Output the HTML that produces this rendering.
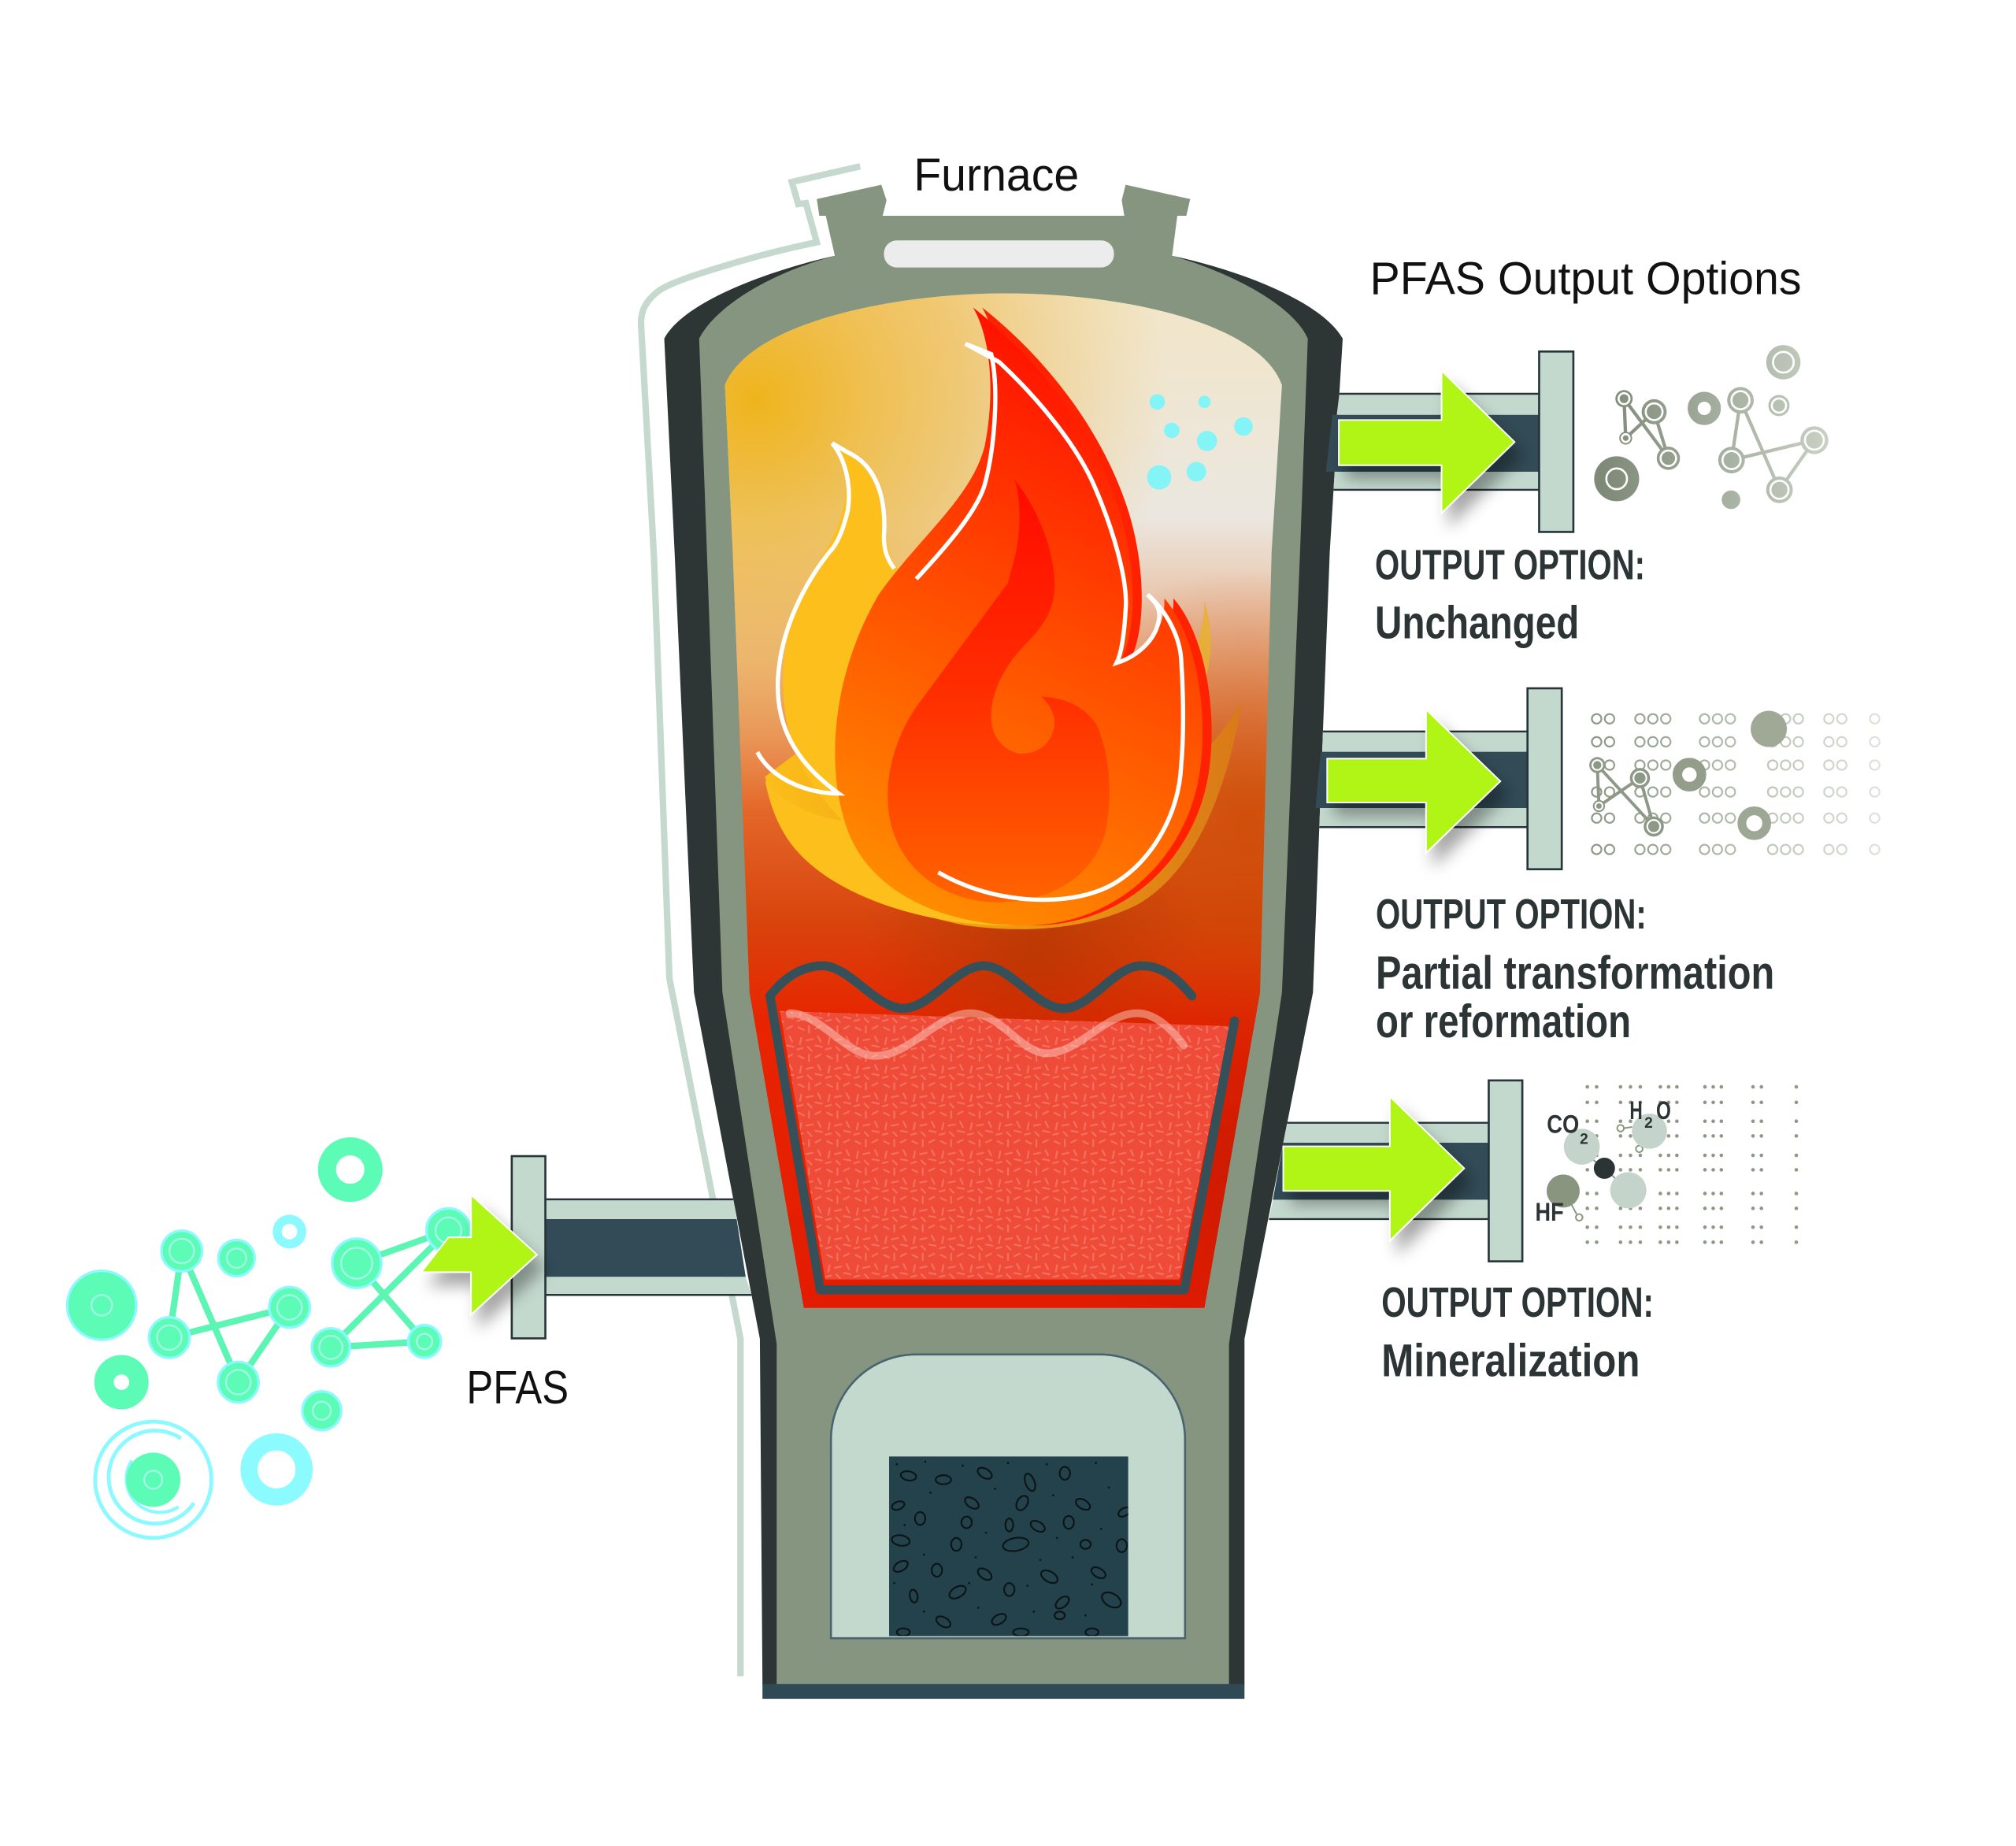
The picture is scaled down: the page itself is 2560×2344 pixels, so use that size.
<!DOCTYPE html>
<html><head><meta charset="utf-8">
<style>
html,body{margin:0;padding:0;background:#fff;}
svg{display:block;}
</style></head><body>
<svg xmlns="http://www.w3.org/2000/svg" width="2560" height="2344" viewBox="0 0 1560 1428.4">
<defs>
 <linearGradient id="chV" x1="0" y1="227" x2="0" y2="1012" gradientUnits="userSpaceOnUse">
  <stop offset="0" stop-color="#f2e6c8"/>
  <stop offset="0.22" stop-color="#ebe7e0"/>
  <stop offset="0.36" stop-color="#e9b08a"/>
  <stop offset="0.5" stop-color="#e5692c"/>
  <stop offset="0.62" stop-color="#d8440c"/>
  <stop offset="0.72" stop-color="#e82400"/>
  <stop offset="1" stop-color="#e31c00"/>
 </linearGradient>
 <radialGradient id="chY" cx="585" cy="310" r="320" gradientUnits="userSpaceOnUse">
  <stop offset="0" stop-color="#efb41c" stop-opacity="1"/>
  <stop offset="0.5" stop-color="#efb845" stop-opacity="0.65"/>
  <stop offset="1" stop-color="#efc060" stop-opacity="0"/>
 </radialGradient>
 <radialGradient id="chR" cx="965" cy="630" r="190" gradientUnits="userSpaceOnUse">
  <stop offset="0" stop-color="#c84800" stop-opacity="0.75"/>
  <stop offset="1" stop-color="#c84800" stop-opacity="0"/>
 </radialGradient>
 <radialGradient id="chB" cx="800" cy="735" r="130" gradientUnits="userSpaceOnUse">
  <stop offset="0" stop-color="#a83600" stop-opacity="0.6"/>
  <stop offset="1" stop-color="#a83600" stop-opacity="0"/>
 </radialGradient>
 <radialGradient id="chD" cx="960" cy="900" r="160" gradientUnits="userSpaceOnUse">
  <stop offset="0" stop-color="#b01400" stop-opacity="0.45"/>
  <stop offset="1" stop-color="#b01400" stop-opacity="0"/>
 </radialGradient>
 <linearGradient id="flm" x1="690" y1="690" x2="880" y2="290" gradientUnits="userSpaceOnUse">
  <stop offset="0" stop-color="#ff8c00"/>
  <stop offset="0.45" stop-color="#ff5400"/>
  <stop offset="1" stop-color="#ff1000"/>
 </linearGradient>
 <linearGradient id="inr" x1="0" y1="371" x2="0" y2="700" gradientUnits="userSpaceOnUse">
  <stop offset="0" stop-color="#ff0a00"/>
  <stop offset="0.5" stop-color="#ff2e00"/>
  <stop offset="1" stop-color="#ff6400"/>
 </linearGradient>
 <linearGradient id="glw" x1="592" y1="0" x2="961" y2="0" gradientUnits="userSpaceOnUse">
  <stop offset="0" stop-color="#fbbe1a"/>
  <stop offset="0.5" stop-color="#f09a10"/>
  <stop offset="1" stop-color="#d87a18"/>
 </linearGradient>
 <linearGradient id="m1" x1="1240" y1="0" x2="1420" y2="0" gradientUnits="userSpaceOnUse">
  <stop offset="0" stop-color="#7e8977"/>
  <stop offset="1" stop-color="#cbd3c7"/>
 </linearGradient>
 <linearGradient id="m2" x1="1230" y1="0" x2="1460" y2="0" gradientUnits="userSpaceOnUse">
  <stop offset="0" stop-color="#8a9583"/>
  <stop offset="1" stop-color="#dfe4dc"/>
 </linearGradient>
 <pattern id="bedp" width="22" height="22" patternUnits="userSpaceOnUse">
  <g stroke="#ffa090" stroke-opacity="0.45" stroke-width="1.3" stroke-linecap="round">
   <line x1="2" y1="3" x2="6" y2="5"/>
   <line x1="10" y1="2" x2="10" y2="7"/>
   <line x1="15" y1="4" x2="19" y2="2"/>
   <line x1="4" y1="11" x2="3" y2="16"/>
   <line x1="8" y1="13" x2="13" y2="12"/>
   <line x1="17" y1="10" x2="19" y2="14"/>
   <line x1="1" y1="20" x2="5" y2="19"/>
   <line x1="9" y1="18" x2="12" y2="21"/>
   <line x1="15" y1="17" x2="20" y2="18"/>
  </g>
 </pattern>
 <filter id="sh" x="-30%" y="-30%" width="170%" height="170%">
  <feDropShadow dx="6" dy="10" stdDeviation="6" flood-color="#000" flood-opacity="0.35"/>
 </filter>
 <clipPath id="grc"><rect x="688" y="1127" width="185" height="139"/></clipPath>
</defs>

<!-- pale outer line -->
<path d="M 665.6,128.7 L 612.7,140.8 L 617.7,157.9 L 623.6,157.2 L 632,187.5 C 590,196 525,215 510.8,224.3 C 500,232 496,240 496,250 L 506,430 L 518,757 L 573,1036 L 573,1297" fill="none" stroke="#c5d9cf" stroke-width="5"/>

<!-- furnace dark shell -->
<path d="M 646,198 C 600,208 530,232 514,262 L 522,427 L 537,768 L 588,1036 L 590,1304 L 963,1304 L 963,1036 L 1016,768 L 1029,427 L 1039,262 C 1022,232 955,208 907,198 Z" fill="#2d3535"/>
<!-- gray wall -->
<path d="M 632,154 L 682,143 L 686,155 L 683,167 L 870,167 L 868,155 L 871,143 L 921,154 L 918,167 L 911,167 L 907,198 C 950,210 1000,235 1012,262 L 1006,427 L 992,768 L 951,1040 L 951,1304 L 601,1304 L 601,1040 L 559,768 L 547,427 L 541,262 C 555,235 600,210 646,198 L 639,167 L 634,167 Z" fill="#86957f"/>
<rect x="590" y="1303" width="373" height="11.5" fill="#2f4a55"/>
<rect x="684" y="186" width="178" height="21" rx="10" fill="#ececec"/>

<!-- chamber -->
<path d="M 561,298 C 580,250 690,227 778,227 C 870,227 975,250 992,298 L 984,427 L 975,768 L 932,1012 L 622,1012 L 580,768 L 567,427 Z" fill="url(#chV)"/>
<path d="M 561,298 C 580,250 690,227 778,227 C 870,227 975,250 992,298 L 984,427 L 975,768 L 932,1012 L 622,1012 L 580,768 L 567,427 Z" fill="url(#chY)"/>
<path d="M 561,298 C 580,250 690,227 778,227 C 870,227 975,250 992,298 L 984,427 L 975,768 L 932,1012 L 622,1012 L 580,768 L 567,427 Z" fill="url(#chR)"/>
<path d="M 561,298 C 580,250 690,227 778,227 C 870,227 975,250 992,298 L 984,427 L 975,768 L 932,1012 L 622,1012 L 580,768 L 567,427 Z" fill="url(#chB)"/>
<path d="M 561,298 C 580,250 690,227 778,227 C 870,227 975,250 992,298 L 984,427 L 975,768 L 932,1012 L 622,1012 L 580,768 L 567,427 Z" fill="url(#chD)"/>

<!-- cyan bubbles -->
<g fill="#85f4f7">
 <circle cx="895.5" cy="311" r="6"/>
 <circle cx="932" cy="311" r="4.8"/>
 <circle cx="906.7" cy="333" r="6"/>
 <circle cx="962.2" cy="330" r="7.2"/>
 <circle cx="934" cy="341.2" r="7.8"/>
 <circle cx="897" cy="369.4" r="9.4"/>
 <circle cx="925.8" cy="365" r="7.6"/>
</g>

<!-- flame -->
<path d="M 592,601 C 605,650 660,700 747,716 C 790,722 840,720 880,700 C 925,675 950,610 961,543 C 945,570 930,585 915,595 L 900,560 L 700,520 Z" fill="url(#glw)"/>
<path d="M 915,528 C 925,505 932,485 932,465 C 940,490 938,515 928,542 Z" fill="#e8b030" opacity="0.85"/>
<path d="M 644,342 C 662,350 682,372 685,405 C 687,425 688,436 698,442 L 790,716 C 720,718 650,695 618,660 C 604,645 596,625 592,604 C 608,622 628,632 652,635 C 622,605 604,570 606,520 C 608,470 632,440 645,415 C 658,388 658,360 644,342 Z" fill="#fcbf1b"/>
<path transform="translate(7,0)" d="M 753,238 C 800,275 845,330 866,395 C 880,440 880,490 866,514 C 885,505 902,490 901,463 C 925,490 936,550 928,600 C 918,660 870,712 800,716 C 730,718 672,690 655,640 C 638,590 645,520 680,460 C 712,415 752,385 762,345 C 770,305 767,262 753,238 Z" fill="#ff2200"/>
<path d="M 753,238 C 800,275 845,330 866,395 C 880,440 880,490 866,514 C 885,505 902,490 901,463 C 925,490 936,550 928,600 C 918,660 870,712 800,716 C 730,718 672,690 655,640 C 638,590 645,520 680,460 C 712,415 752,385 762,345 C 770,305 767,262 753,238 Z" fill="url(#flm)"/>
<path d="M 785,371 C 790,385 790,410 786,428 L 780,451 L 709,547 C 690,575 682,610 690,640 C 700,675 730,695 765,698 C 810,700 845,680 855,645 C 862,615 858,580 848,560 C 840,548 826,540 806,539 C 815,548 818,558 815,565 C 812,578 800,584 788,583 C 775,580 766,568 767,552 C 768,530 782,510 794,498 C 808,484 817,470 816,450 C 815,420 800,390 785,371 Z" fill="url(#inr)"/>
<g fill="none" stroke="#fff" stroke-width="3.3" stroke-linejoin="miter">
 <path d="M 692,440 C 686,432 684,425 684,415 C 686,385 678,360 656,350 L 644,343 C 654,355 659,375 656,395 C 652,412 647,422 642,427 C 622,452 604,488 602,525 C 600,562 616,590 649,614 C 626,614 598,604 586,582"/>
 <path d="M 709,448 C 735,420 756,395 762,375 C 770,345 773,300 767,274 L 747,266 L 773,280 C 800,305 830,340 845,372 C 862,410 873,450 871,472 C 870,490 868,505 864,513 C 880,508 895,495 897,478 C 898,470 893,465 888,460 C 905,475 913,495 914,510 C 916,540 916,570 914,592 C 912,640 880,680 848,690 C 820,700 770,700 726,675"/>
</g>

<!-- bed -->
<polygon points="603.6,782.3 951.5,794 912.6,990 638.5,990" fill="#ee4c38"/>
<polygon points="603.6,782.3 951.5,794 912.6,990 638.5,990" fill="url(#bedp)"/>
<path d="M 611,784 C 635,784 655,817 677,817 C 705,817 725,784 751,784 C 775,784 790,815 810,815 C 835,815 855,784 880,784 C 895,784 908,798 916,809" fill="none" stroke="#ffdcd2" stroke-opacity="0.45" stroke-width="6" stroke-linecap="round"/>
<path d="M 595.8,770.6 C 608,755 622,747.3 636.6,747.3 C 657,747.3 678,780.3 698.8,780.3 C 720,780.3 740,747.3 761,747.3 C 782,747.3 802,780.3 823,780.3 C 844,780.3 862,747.3 883.4,747.3 C 900,747.3 912,758 922.3,770.6" fill="none" stroke="#36505a" stroke-width="7" stroke-linecap="round"/>
<path d="M 595.8,770.6 L 634.7,998 L 916.5,998 L 955.3,790" fill="none" stroke="#36505a" stroke-width="7" stroke-linecap="round" stroke-linejoin="round"/>

<!-- lower arch window -->
<path d="M 643,1267.6 L 643,1114 A 66,66 0 0 1 709,1048 L 851,1048 A 66,66 0 0 1 917,1114 L 917,1267.6 Z" fill="#c3d9ce" stroke="#4a6470" stroke-width="1.6"/>
<rect x="688" y="1127" width="185" height="139" fill="#24424b"/>
<g clip-path="url(#grc)" fill="none" stroke="#0b1416" stroke-width="1.3">
 <ellipse cx="703" cy="1142" rx="6" ry="3.5" transform="rotate(10 703 1142)"/>
 <ellipse cx="730" cy="1145" rx="6" ry="3.5"/>
 <ellipse cx="762" cy="1140" rx="6" ry="3.5" transform="rotate(30 762 1140)"/>
 <ellipse cx="797" cy="1147" rx="3.5" ry="7" transform="rotate(-20 797 1147)"/>
 <ellipse cx="824" cy="1140" rx="4" ry="5"/>
 <ellipse cx="695" cy="1165" rx="5" ry="3" transform="rotate(-20 695 1165)"/>
 <ellipse cx="752" cy="1163" rx="6" ry="3.5" transform="rotate(35 752 1163)"/>
 <ellipse cx="791" cy="1163" rx="4" ry="6" transform="rotate(30 791 1163)"/>
 <ellipse cx="838" cy="1164" rx="6" ry="3.5" transform="rotate(30 838 1164)"/>
 <ellipse cx="870" cy="1170" rx="5" ry="3" transform="rotate(-30 870 1170)"/>
 <ellipse cx="712" cy="1175" rx="4" ry="5"/>
 <ellipse cx="748" cy="1178" rx="4" ry="4.5"/>
 <ellipse cx="781" cy="1180" rx="3" ry="5"/>
 <ellipse cx="803" cy="1181" rx="6" ry="3.5" transform="rotate(30 803 1181)"/>
 <ellipse cx="827" cy="1178" rx="4" ry="5"/>
 <ellipse cx="697" cy="1192" rx="7" ry="4" transform="rotate(10 697 1192)"/>
 <ellipse cx="740" cy="1195" rx="4" ry="5"/>
 <ellipse cx="786" cy="1195" rx="10" ry="5" transform="rotate(-10 786 1195)"/>
 <ellipse cx="840" cy="1195" rx="4" ry="3.5"/>
 <ellipse cx="868" cy="1196" rx="4" ry="5"/>
 <ellipse cx="697" cy="1212" rx="6" ry="3.5" transform="rotate(-30 697 1212)"/>
 <ellipse cx="725" cy="1215" rx="4" ry="5"/>
 <ellipse cx="762" cy="1218" rx="6" ry="3.5" transform="rotate(35 762 1218)"/>
 <ellipse cx="812" cy="1220" rx="7" ry="4" transform="rotate(30 812 1220)"/>
 <ellipse cx="850" cy="1217" rx="6" ry="3.5" transform="rotate(30 850 1217)"/>
 <ellipse cx="707" cy="1235" rx="3" ry="5" transform="rotate(-10 707 1235)"/>
 <ellipse cx="741" cy="1232" rx="7" ry="4" transform="rotate(-30 741 1232)"/>
 <ellipse cx="781" cy="1230" rx="4" ry="5"/>
 <ellipse cx="822" cy="1240" rx="6" ry="3.5" transform="rotate(-40 822 1240)"/>
 <ellipse cx="860" cy="1238" rx="8" ry="5" transform="rotate(30 860 1238)"/>
 <ellipse cx="730" cy="1255" rx="6" ry="3.5" transform="rotate(30 730 1255)"/>
 <ellipse cx="773" cy="1253" rx="6" ry="3.5" transform="rotate(-30 773 1253)"/>
 <ellipse cx="820" cy="1250" rx="4" ry="3"/>
 <ellipse cx="699" cy="1263" rx="5" ry="3"/>
 <ellipse cx="790" cy="1263" rx="6" ry="3"/>
 <ellipse cx="845" cy="1263" rx="5" ry="3"/>
</g>
<g fill="#0b1416">
 <circle cx="694" cy="1133" r="0.8"/><circle cx="716" cy="1131" r="0.8"/><circle cx="745" cy="1134" r="0.8"/><circle cx="780" cy="1132" r="0.8"/><circle cx="810" cy="1133" r="0.8"/><circle cx="848" cy="1132" r="0.8"/>
 <circle cx="720" cy="1155" r="0.8"/><circle cx="770" cy="1152" r="0.8"/><circle cx="815" cy="1157" r="0.8"/><circle cx="858" cy="1151" r="0.8"/>
 <circle cx="700" cy="1180" r="0.8"/><circle cx="763" cy="1186" r="0.8"/><circle cx="818" cy="1190" r="0.8"/><circle cx="852" cy="1183" r="0.8"/>
 <circle cx="715" cy="1203" r="0.8"/><circle cx="755" cy="1205" r="0.8"/><circle cx="805" cy="1207" r="0.8"/><circle cx="830" cy="1205" r="0.8"/>
 <circle cx="692" cy="1225" r="0.8"/><circle cx="750" cy="1225" r="0.8"/><circle cx="795" cy="1227" r="0.8"/><circle cx="845" cy="1226" r="0.8"/>
 <circle cx="715" cy="1247" r="0.8"/><circle cx="757" cy="1244" r="0.8"/><circle cx="800" cy="1247" r="0.8"/><circle cx="840" cy="1250" r="0.8"/>
</g>

<!-- inlet pipe -->
<polygon points="422,928 567.4,928 570,943.3 422,943.3" fill="#c4d9ce"/>
<polygon points="422,988 577,988 581.5,1002 422,1002" fill="#c4d9ce"/>
<polygon points="422,943.3 570,943.3 577,988 422,988" fill="#324b56"/>
<line x1="422" y1="928" x2="567.4" y2="928" stroke="#26343a" stroke-width="1.5"/>
<line x1="422" y1="1002" x2="581.5" y2="1002" stroke="#26343a" stroke-width="1.5"/>
<rect x="396" y="894.6" width="26" height="141" fill="#c4d9ce" stroke="#26343a" stroke-width="1.6"/>

<!-- left molecules -->
<g stroke="#5cf5b4" stroke-width="5" fill="none">
 <line x1="140.6" y1="968" x2="131" y2="1035"/>
 <line x1="140.6" y1="968" x2="184.4" y2="1069.5"/>
 <line x1="131" y1="1035" x2="224" y2="1011.6"/>
 <line x1="224" y1="1011.6" x2="184.4" y2="1069.5"/>
 <line x1="276" y1="977.5" x2="347" y2="952"/>
 <line x1="347" y1="952" x2="256" y2="1042.6"/>
 <line x1="276" y1="977.5" x2="328.5" y2="1038"/>
 <line x1="256" y1="1042.6" x2="328.5" y2="1038"/>
</g>
<g fill="#5cfcb6" stroke="#8cf8ff" stroke-width="2">
 <circle cx="140.6" cy="968" r="15.7"/>
 <circle cx="131" cy="1035" r="15.7"/>
 <circle cx="224" cy="1011.6" r="15.7"/>
 <circle cx="184.4" cy="1069.5" r="15.7"/>
 <circle cx="183" cy="973.5" r="14"/>
 <circle cx="276" cy="977.5" r="19"/>
 <circle cx="347" cy="952" r="17"/>
 <circle cx="256" cy="1042.6" r="14.7"/>
 <circle cx="328.5" cy="1038" r="12.6"/>
 <circle cx="78.7" cy="1010" r="26.7"/>
 <circle cx="249" cy="1091.6" r="15"/>
</g>
<g fill="none" stroke="#a4fbe6" stroke-width="1.4">
 <circle cx="140.6" cy="968" r="9.5"/>
 <circle cx="131" cy="1035" r="9.5"/>
 <circle cx="224" cy="1011.6" r="9.5"/>
 <circle cx="184.4" cy="1069.5" r="9.5"/>
 <circle cx="183" cy="973.5" r="7.5"/>
 <circle cx="276" cy="977.5" r="12"/>
 <circle cx="347" cy="952" r="10"/>
 <circle cx="256" cy="1042.6" r="9"/>
 <circle cx="328.5" cy="1038" r="6"/>
 <circle cx="78.7" cy="1010" r="8"/>
 <circle cx="249" cy="1091.6" r="7"/>
</g>
<circle cx="271" cy="905" r="18" fill="none" stroke="#5cfcb6" stroke-width="14"/>
<circle cx="224" cy="953" r="9.5" fill="none" stroke="#8cf9ff" stroke-width="7"/>
<circle cx="94" cy="1069.5" r="13.5" fill="none" stroke="#5cfcb6" stroke-width="15"/>
<circle cx="214" cy="1137" r="21.3" fill="none" stroke="#8cfbff" stroke-width="13.3"/>
<g fill="none" stroke="#8cf9ff">
 <circle cx="118.6" cy="1145" r="45" stroke-width="3"/>
 <path d="M 140,1113 A 36,36 0 1 0 150,1163" stroke-width="3"/>
 <path d="M 102,1130 A 26,26 0 0 0 138,1166" stroke-width="2.5"/>
</g>
<circle cx="118.6" cy="1145" r="21" fill="#5cfcb6"/>
<circle cx="118.6" cy="1145" r="7" fill="none" stroke="#a4fbe6" stroke-width="1.4"/>

<!-- inlet arrow -->
<path d="M 347,957.4 L 364.5,957.4 L 364.5,924.5 L 415.5,970.8 L 364.5,1017.3 L 364.5,984.4 L 326,984.4 Z" fill="#b0f518" stroke="#fff" stroke-width="1.2" filter="url(#sh)"/>
<text x="361" y="1086" font-family="Liberation Sans, sans-serif" font-size="36" fill="#111" textLength="79" lengthAdjust="spacingAndGlyphs">PFAS</text>

<!-- output 1 -->
<polygon points="1036.4,304.7 1191,304.7 1191,321 1034.4,321" fill="#c4d9ce"/>
<polygon points="1032.8,365 1191,365 1191,379 1031.9,379" fill="#c4d9ce"/>
<line x1="1036.4" y1="304.7" x2="1191" y2="304.7" stroke="#26343a" stroke-width="1.5"/>
<line x1="1031.9" y1="379" x2="1191" y2="379" stroke="#26343a" stroke-width="1.5"/>
<polygon points="1031,321 1191,321 1191,365 1026,365" fill="#324b56"/>
<path d="M 1036,325 L 1115.5,325 L 1115.5,287 L 1172,342 L 1115.5,397 L 1115.5,360 L 1036,360 Z" fill="#b0f518" stroke="#fff" stroke-width="1.2" filter="url(#sh)"/>
<rect x="1191" y="272" width="26.5" height="139.6" fill="#c4d9ce" stroke="#26343a" stroke-width="1.6"/>

<!-- output 2 -->
<polygon points="1023.7,566 1182,566 1182,581.7 1023.2,581.7" fill="#c4d9ce"/>
<polygon points="1021.5,625.2 1182,625.2 1182,640 1020.9,640" fill="#c4d9ce"/>
<line x1="1023.7" y1="566" x2="1182" y2="566" stroke="#26343a" stroke-width="1.5"/>
<line x1="1020.9" y1="640" x2="1182" y2="640" stroke="#26343a" stroke-width="1.5"/>
<polygon points="1022,581.7 1182,581.7 1182,625.2 1018,625.2" fill="#324b56"/>
<path d="M 1027,587 L 1103.5,587 L 1103.5,549 L 1161,604.5 L 1103.5,660 L 1103.5,621 L 1027,621 Z" fill="#b0f518" stroke="#fff" stroke-width="1.2" filter="url(#sh)"/>
<rect x="1182" y="532.6" width="26.5" height="140" fill="#c4d9ce" stroke="#26343a" stroke-width="1.6"/>

<!-- output 3 -->
<polygon points="996,868.8 1152,868.8 1152,884.2 993,884.2" fill="#c4d9ce"/>
<polygon points="985,928.3 1152,928.3 1152,943.3 982,943.3" fill="#c4d9ce"/>
<line x1="996" y1="868.8" x2="1152" y2="868.8" stroke="#26343a" stroke-width="1.5"/>
<line x1="982" y1="943.3" x2="1152" y2="943.3" stroke="#26343a" stroke-width="1.5"/>
<polygon points="993,884.2 1152,884.2 1152,928.3 985,928.3" fill="#324b56"/>
<path d="M 993,887 L 1075.5,887 L 1075.5,848.5 L 1133,904 L 1075.5,960 L 1075.5,921.5 L 993,921.5 Z" fill="#b0f518" stroke="#fff" stroke-width="1.2" filter="url(#sh)"/>
<rect x="1152" y="836" width="26" height="140" fill="#c4d9ce" stroke="#26343a" stroke-width="1.6"/>

<!-- output 1 molecules -->
<g stroke="url(#m1)" stroke-width="2.6" fill="none">
 <line x1="1256.7" y1="308.5" x2="1258" y2="339"/>
 <line x1="1256.7" y1="308.5" x2="1291" y2="354.6"/>
 <line x1="1258" y1="339" x2="1280" y2="318.6"/>
 <line x1="1280" y1="318.6" x2="1291" y2="354.6"/>
 <line x1="1346.8" y1="309.7" x2="1339.9" y2="356"/>
 <line x1="1346.8" y1="309.7" x2="1377" y2="379"/>
 <line x1="1339.9" y1="356" x2="1404" y2="340.6"/>
 <line x1="1404" y1="340.6" x2="1377" y2="379"/>
</g>
<g fill="url(#m1)">
 <circle cx="1251" cy="370.5" r="17.4"/>
 <circle cx="1256.7" cy="308.5" r="6.7"/>
 <circle cx="1280" cy="318.6" r="9.7"/>
 <circle cx="1258" cy="339" r="5"/>
 <circle cx="1291" cy="354.6" r="9"/>
 <circle cx="1346.8" cy="309.7" r="10.3"/>
 <circle cx="1339.9" cy="356" r="10.3"/>
 <circle cx="1404" cy="340.6" r="10.8"/>
 <circle cx="1377" cy="379" r="10.3"/>
 <circle cx="1376.6" cy="313.8" r="8.2"/>
 <circle cx="1380" cy="280.3" r="13.3"/>
 <circle cx="1339.5" cy="386.7" r="7.2"/>
</g>
<circle cx="1318.8" cy="316" r="9" fill="none" stroke="url(#m1)" stroke-width="7.7"/>
<g fill="none" stroke="#fff" stroke-width="1.6">
 <circle cx="1251" cy="370.5" r="8"/>
 <circle cx="1256.7" cy="308.5" r="4.2"/>
 <circle cx="1280" cy="318.6" r="6.5"/>
 <circle cx="1258" cy="339" r="3"/>
 <circle cx="1291" cy="354.6" r="6"/>
 <circle cx="1346.8" cy="309.7" r="7"/>
 <circle cx="1339.9" cy="356" r="7"/>
 <circle cx="1404" cy="340.6" r="7.3"/>
 <circle cx="1377" cy="379" r="7"/>
 <circle cx="1376.6" cy="313.8" r="5.5"/>
 <circle cx="1380" cy="280.3" r="8"/>
</g>

<!-- output 2 ring grid -->
<g fill="none" stroke="url(#m2)" stroke-width="1.3">
 <g id="rrow">
  <circle cx="1235.5" cy="556.2" r="3.7"/><circle cx="1245.5" cy="556.2" r="3.7"/>
  <circle cx="1269" cy="556.2" r="3.7"/><circle cx="1279" cy="556.2" r="3.7"/><circle cx="1289" cy="556.2" r="3.7"/>
  <circle cx="1319" cy="556.2" r="3.7"/><circle cx="1329" cy="556.2" r="3.7"/><circle cx="1339" cy="556.2" r="3.7"/>
  <circle cx="1371.7" cy="556.2" r="3.7"/><circle cx="1381.7" cy="556.2" r="3.7"/><circle cx="1391.6" cy="556.2" r="3.7"/>
  <circle cx="1415.2" cy="556.2" r="3.7"/><circle cx="1425.2" cy="556.2" r="3.7"/>
  <circle cx="1450.7" cy="556.2" r="3.7"/>
 </g>
 <use href="#rrow" y="17.8"/>
 <use href="#rrow" y="35.8"/>
 <use href="#rrow" y="56.6"/>
 <use href="#rrow" y="76.8"/>
 <use href="#rrow" y="101.1"/>
</g>
<circle cx="1368.7" cy="564" r="14" fill="#a0a996"/>
<circle cx="1307.3" cy="599.4" r="9.3" fill="none" stroke="#939d8a" stroke-width="7.4"/>
<circle cx="1357.5" cy="637" r="9.6" fill="none" stroke="#9ea794" stroke-width="6.8"/>
<g stroke="#8d9886" stroke-width="2.4">
 <line x1="1236" y1="592" x2="1237.3" y2="623.7"/>
 <line x1="1236" y1="592" x2="1279.7" y2="639.5"/>
 <line x1="1237.3" y1="623.7" x2="1269" y2="602"/>
 <line x1="1269" y1="602" x2="1279.7" y2="639.5"/>
</g>
<g fill="#8d9886">
 <circle cx="1236" cy="592" r="6.2"/>
 <circle cx="1269" cy="602" r="7.8"/>
 <circle cx="1237.3" cy="623.7" r="4.7"/>
 <circle cx="1279.7" cy="639.5" r="7.8"/>
</g>
<g fill="none" stroke="#fff" stroke-width="1.3">
 <circle cx="1236" cy="592" r="3.8"/>
 <circle cx="1269" cy="602" r="5"/>
 <circle cx="1237.3" cy="623.7" r="2.8"/>
 <circle cx="1279.7" cy="639.5" r="5"/>
</g>

<!-- output 3 dots -->
<g fill="#8d9886">
 <g id="drow">
  <circle cx="1228.3" cy="841" r="1.4"/><circle cx="1235.5" cy="841" r="1.4"/>
  <circle cx="1254" cy="841" r="1.4"/><circle cx="1261.7" cy="841" r="1.4"/><circle cx="1269.3" cy="841" r="1.4"/>
  <circle cx="1284.8" cy="841" r="1.4"/><circle cx="1291.2" cy="841" r="1.4"/><circle cx="1297.6" cy="841" r="1.4"/>
  <circle cx="1319.3" cy="841" r="1.4"/><circle cx="1325.7" cy="841" r="1.4"/><circle cx="1332" cy="841" r="1.4"/>
  <circle cx="1356.5" cy="841" r="1.4"/><circle cx="1363" cy="841" r="1.4"/>
  <circle cx="1390" cy="841" r="1.4"/>
 </g>
 <use href="#drow" y="12"/>
 <use href="#drow" y="26.6"/>
 <use href="#drow" y="38"/>
 <use href="#drow" y="53"/>
 <use href="#drow" y="64.2"/>
 <use href="#drow" y="82.5"/>
 <use href="#drow" y="94"/>
 <use href="#drow" y="108.6"/>
 <use href="#drow" y="120.2"/>
</g>
<g stroke="#8a957f" stroke-width="1.2" fill="none">
 <line x1="1231" y1="896" x2="1236" y2="900"/>
 <line x1="1247" y1="909" x2="1252" y2="914"/>
 <line x1="1256.5" y1="873" x2="1263" y2="872"/>
 <line x1="1270" y1="886" x2="1272" y2="882"/>
 <line x1="1216" y1="932" x2="1220" y2="939.5"/>
 <circle cx="1254" cy="873" r="2.6"/>
 <circle cx="1268.5" cy="889" r="2.6"/>
 <circle cx="1222" cy="942" r="2.6"/>
</g>
<circle cx="1224" cy="887.3" r="13.9" fill="#c5d4cb"/>
<circle cx="1276.4" cy="875.3" r="13.6" fill="#c5d4cb"/>
<circle cx="1260" cy="921" r="14" fill="#c5d4cb"/>
<circle cx="1241.5" cy="904" r="8.2" fill="#2c3335"/>
<circle cx="1209.6" cy="921.6" r="12.8" fill="#8a957f"/>
<g font-family="Liberation Sans, sans-serif" font-weight="bold" fill="#2c3436">
 <text x="1197" y="876.5" font-size="19.5" textLength="25" lengthAdjust="spacingAndGlyphs">CO</text>
 <text x="1222.5" y="885" font-size="12" textLength="6.5" lengthAdjust="spacingAndGlyphs">2</text>
 <text x="1261" y="866" font-size="19.5" textLength="10" lengthAdjust="spacingAndGlyphs">H</text>
 <text x="1272.5" y="872.5" font-size="12" textLength="6.5" lengthAdjust="spacingAndGlyphs">2</text>
 <text x="1281.5" y="866" font-size="19.5" textLength="11.5" lengthAdjust="spacingAndGlyphs">O</text>
 <text x="1188" y="944.6" font-size="19.5" textLength="22" lengthAdjust="spacingAndGlyphs">HF</text>
</g>

<!-- titles -->
<text x="707" y="147.5" font-family="Liberation Sans, sans-serif" font-size="35.5" fill="#111" textLength="128" lengthAdjust="spacingAndGlyphs">Furnace</text>
<text x="1060" y="227.7" font-family="Liberation Sans, sans-serif" font-size="35.5" fill="#111" textLength="334" lengthAdjust="spacingAndGlyphs">PFAS Output Options</text>

<g font-family="Liberation Sans, sans-serif" font-weight="bold" fill="#2c3436">
 <text x="1064" y="448.3" font-size="32.5" textLength="209" lengthAdjust="spacingAndGlyphs">OUTPUT OPTION:</text>
 <text x="1064" y="494" font-size="35.5" textLength="158" lengthAdjust="spacingAndGlyphs">Unchanged</text>
 <text x="1064.6" y="718.5" font-size="32.5" textLength="209.5" lengthAdjust="spacingAndGlyphs">OUTPUT OPTION:</text>
 <text x="1064.6" y="765" font-size="36" textLength="308.5" lengthAdjust="spacingAndGlyphs">Partial transformation</text>
 <text x="1064.6" y="802.5" font-size="36" textLength="197.5" lengthAdjust="spacingAndGlyphs">or reformation</text>
 <text x="1069" y="1019" font-size="32.5" textLength="210.7" lengthAdjust="spacingAndGlyphs">OUTPUT OPTION:</text>
 <text x="1069" y="1065" font-size="35.5" textLength="200" lengthAdjust="spacingAndGlyphs">Mineralization</text>
</g>
</svg>
</body></html>
